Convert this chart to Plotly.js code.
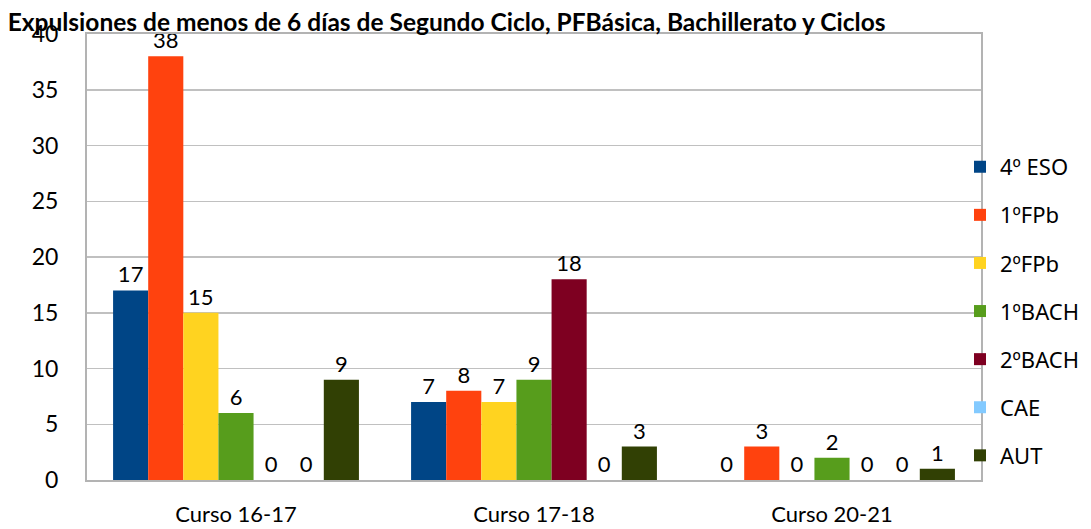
<!DOCTYPE html>
<html>
<head>
<meta charset="utf-8">
<script src="https://cdn.plot.ly/plotly-3.0.1.min.js"></script>
<style>html,body{margin:0;padding:0;background:#fff}#chart{width:1091px;height:529px}</style>
</head>
<body>
<div id="chart"></div>
<script>
const categories = ["Curso 16-17", "Curso 17-18", "Curso 20-21"];
const seriesNames = ["4º ESO", "1ºFPb", "2ºFPb", "1ºBACH", "2ºBACH", "CAE", "AUT"];
const eso4 = [17, 7, 0];
const fpb1 = [38, 8, 3];
const fpb2 = [15, 7, 0];
const bach1 = [6, 9, 2];
const bach2 = [0, 18, 0];
const cae = [0, 0, 0];
const aut = [9, 3, 1];
const seriesValues = [eso4, fpb1, fpb2, bach1, bach2, cae, aut];
const colors = ["#004586", "#ff420e", "#ffd320", "#579d1c", "#7e0021", "#83caff", "#314004"];
const FONT = "Lato, 'Open Sans', sans-serif";
const LFONT = "'Noto Sans', 'Open Sans', sans-serif";

const traces = seriesNames.map((name, i) => ({
  type: "bar",
  name: name,
  x: categories,
  y: seriesValues[i],
  text: seriesValues[i].map(String),
  textposition: "outside",
  textfont: {family: FONT, size: 22, color: "#000"},
  cliponaxis: false,
  legendgroup: "g" + i,
  marker: {color: colors[i], line: {width: 0}},
  hoverinfo: "none"
}));

const layout = {
  width: 1091, height: 529,
  margin: {l: 87, r: 110, t: 34, b: 49, autoexpand: false},
  paper_bgcolor: "#fff", plot_bgcolor: "#fff",
  font: {family: FONT, color: "#000"},
  title: {
    text: "<b>Expulsiones de menos de 6 días de Segundo Ciclo, PFBásica, Bachillerato y Ciclos</b>",
    font: {family: FONT, size: 24.5, color: "#000"},
    x: 0.007, xanchor: "left", xref: "container", y: 0.957, yanchor: "middle"
  },
  barmode: "group",
  bargap: 0.175,
  bargroupgap: 0,
  xaxis: {
    showline: true, linecolor: "#b3b3b3", linewidth: 2, mirror: true,
    ticks: "", tickfont: {family: FONT, size: 22, color: "#000"},
    ticklabelstandoff: 14
  },
  yaxis: {
    range: [0, 40], dtick: 5, tick0: 0,
    showline: true, linecolor: "#b3b3b3", linewidth: 2, mirror: true,
    gridcolor: "#c0c0c0", gridwidth: 1.5, zeroline: false,
    ticks: "", tickfont: {family: FONT, size: 23, color: "#000"},
    ticklabelstandoff: 22
  },
  showlegend: true,
  legend: {
    x: 0.9765, xanchor: "left", y: 0.749, yanchor: "top",
    font: {family: LFONT, size: 22, color: "#000"},
    tracegroupgap: 16.5, bgcolor: "rgba(0,0,0,0)", traceorder: "grouped"
  }
};

Plotly.newPlot("chart", traces, layout, {displayModeBar: false, staticPlot: true});
</script>
</body>
</html>
